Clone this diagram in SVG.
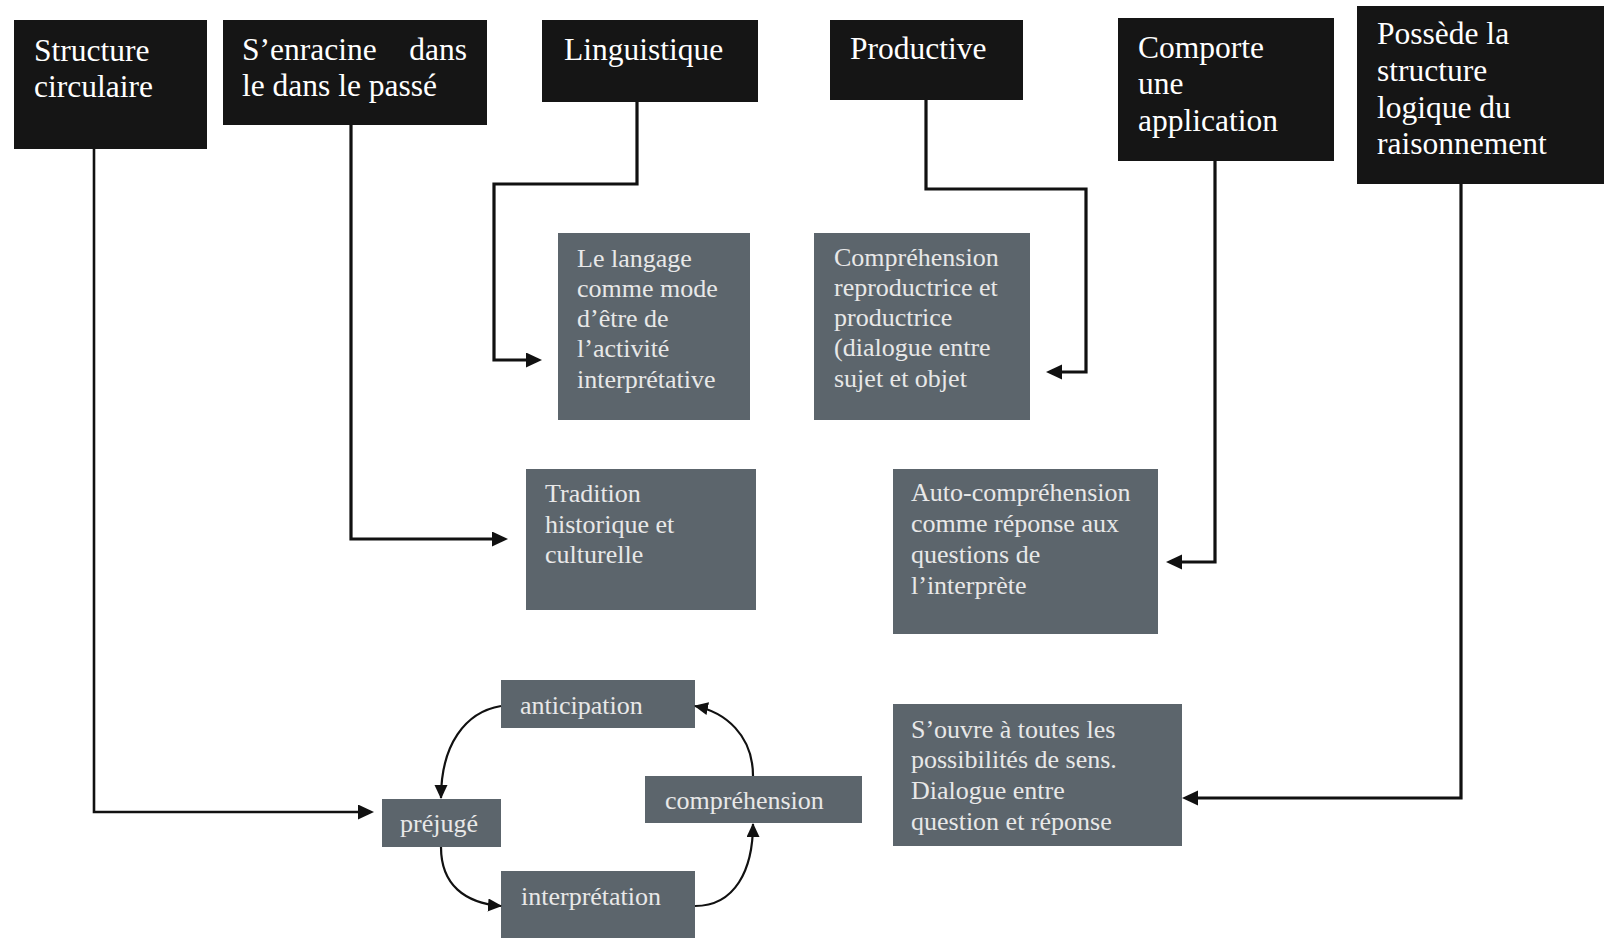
<svg xmlns="http://www.w3.org/2000/svg" width="1604" height="938" viewBox="0 0 1604 938">
<style>
.blk{fill:#151515}
.gry{fill:#5c656c}
.tb{font-family:"Liberation Serif","Times New Roman",serif;font-size:31.5px;fill:#ffffff}
.tg{font-family:"Liberation Serif","Times New Roman",serif;font-size:26px;fill:#e8e8e8}
.ln{fill:none;stroke:#111;stroke-width:3.2;stroke-linejoin:miter}
.cy{fill:none;stroke:#111;stroke-width:2.2}
</style>
<defs>
<marker id="ah" markerUnits="userSpaceOnUse" markerWidth="18" markerHeight="16" refX="8" refY="7.5" orient="auto">
<path d="M0,0 L16,7.5 L0,15 z" fill="#111"/>
</marker>
<marker id="ac" markerUnits="userSpaceOnUse" markerWidth="16" markerHeight="14" refX="13" refY="6.5" orient="auto">
<path d="M0,0 L14,6.5 L0,13 z" fill="#111"/>
</marker>
</defs>
<rect width="1604" height="938" fill="#ffffff"/>

<g id="n-structure">
<rect class="blk" x="14" y="20" width="193" height="129"/>
<text class="tb" x="34" y="61">Structure</text>
<text class="tb" x="34" y="97">circulaire</text>
</g>
<g id="n-enracine">
<rect class="blk" x="223" y="20" width="264" height="105"/>
<text class="tb" x="242" y="60">S’enracine</text>
<text class="tb" x="467" y="60" text-anchor="end">dans</text>
<text class="tb" x="242" y="96">le dans le passé</text>
</g>
<g id="n-linguistique">
<rect class="blk" x="542" y="20" width="216" height="82"/>
<text class="tb" x="564" y="60">Linguistique</text>
</g>
<g id="n-productive">
<rect class="blk" x="830" y="20" width="193" height="80"/>
<text class="tb" x="850" y="59">Productive</text>
</g>
<g id="n-comporte">
<rect class="blk" x="1118" y="18" width="216" height="143"/>
<text class="tb" x="1138" y="58">Comporte</text>
<text class="tb" x="1138" y="94">une</text>
<text class="tb" x="1138" y="131">application</text>
</g>
<g id="n-possede">
<rect class="blk" x="1357" y="6" width="247" height="178"/>
<text class="tb" x="1377" y="44">Possède la</text>
<text class="tb" x="1377" y="81">structure</text>
<text class="tb" x="1377" y="118">logique du</text>
<text class="tb" x="1377" y="154">raisonnement</text>
</g>

<g id="n-langage">
<rect class="gry" x="558" y="233" width="192" height="187"/>
<text class="tg" x="577" y="267">Le langage</text>
<text class="tg" x="577" y="297">comme mode</text>
<text class="tg" x="577" y="327">d’être de</text>
<text class="tg" x="577" y="357">l’activité</text>
<text class="tg" x="577" y="388">interprétative</text>
</g>
<g id="n-comprehension-repro">
<rect class="gry" x="814" y="233" width="216" height="187"/>
<text class="tg" x="834" y="266">Compréhension</text>
<text class="tg" x="834" y="296">reproductrice et</text>
<text class="tg" x="834" y="326">productrice</text>
<text class="tg" x="834" y="356">(dialogue entre</text>
<text class="tg" x="834" y="387">sujet et objet</text>
</g>
<g id="n-tradition">
<rect class="gry" x="526" y="469" width="230" height="141"/>
<text class="tg" x="545" y="502">Tradition</text>
<text class="tg" x="545" y="533">historique et</text>
<text class="tg" x="545" y="563">culturelle</text>
</g>
<g id="n-auto">
<rect class="gry" x="893" y="469" width="265" height="165"/>
<text class="tg" x="911" y="501">Auto-compréhension</text>
<text class="tg" x="911" y="532">comme réponse aux</text>
<text class="tg" x="911" y="563">questions de</text>
<text class="tg" x="911" y="594">l’interprète</text>
</g>
<g id="n-ouvre">
<rect class="gry" x="893" y="704" width="289" height="142"/>
<text class="tg" x="911" y="738">S’ouvre à toutes les</text>
<text class="tg" x="911" y="768">possibilités de sens.</text>
<text class="tg" x="911" y="799">Dialogue entre</text>
<text class="tg" x="911" y="830">question et réponse</text>
</g>

<g id="n-anticipation">
<rect class="gry" x="501" y="680" width="194" height="48"/>
<text class="tg" x="520" y="714">anticipation</text>
</g>
<g id="n-prejuge">
<rect class="gry" x="382" y="799" width="119" height="48"/>
<text class="tg" x="400" y="832">préjugé</text>
</g>
<g id="n-comprehension">
<rect class="gry" x="645" y="776" width="217" height="47"/>
<text class="tg" x="665" y="809">compréhension</text>
</g>
<g id="n-interpretation">
<rect class="gry" x="501" y="871" width="194" height="67"/>
<text class="tg" x="521" y="905">interprétation</text>
</g>

<g id="connectors">
<path class="ln" style="stroke-width:2.6" d="M94,149 V812 H366" marker-end="url(#ah)"/>
<path class="ln" d="M351,125 V539 H500" marker-end="url(#ah)"/>
<path class="ln" d="M637,102 V184 H494 V360 H534" marker-end="url(#ah)"/>
<path class="ln" d="M926,100 V189 H1086 V372 H1054" marker-end="url(#ah)"/>
<path class="ln" d="M1215,161 V562 H1174" marker-end="url(#ah)"/>
<path class="ln" d="M1461,184 V798 H1190" marker-end="url(#ah)"/>
<path class="cy" d="M501,706 C465,712 441,745 441,798" marker-end="url(#ac)"/>
<path class="cy" d="M441,847 C441,885 465,903 501,906" marker-end="url(#ac)"/>
<path class="cy" d="M695,906 C735,906 753,870 753,824" marker-end="url(#ac)"/>
<path class="cy" d="M753,776 C753,735 725,712 695,706" marker-end="url(#ac)"/>
</g>
</svg>
